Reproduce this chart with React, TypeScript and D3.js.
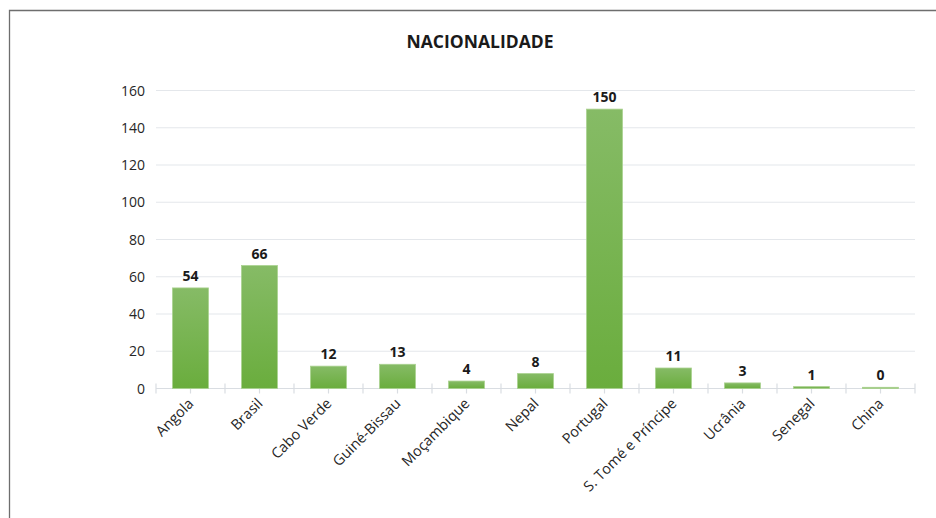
import React from 'react';
import * as d3 from 'd3';

const categories = ['Angola', 'Brasil', 'Cabo Verde', 'Guiné-Bissau', 'Moçambique', 'Nepal', 'Portugal', 'S. Tomé e Príncipe', 'Ucrânia', 'Senegal', 'China'];
const values = [54, 66, 12, 13, 4, 8, 150, 11, 3, 1, 0];
const yTicks = [0, 20, 40, 60, 80, 100, 120, 140, 160];

const W = 936;
const H = 518;
const left = 156;
const right = 915;
const top = 90.5;
const bottom = 388.5;
const font = '"Open Sans", "Liberation Sans", Arial, sans-serif';

const App = () => {
  const x = d3.scaleBand().domain(categories).range([left, right]).paddingInner(0.48).paddingOuter(0.24);
  const band = d3.scaleBand().domain(categories).range([left, right]);
  const y = d3.scaleLinear().domain([0, 160]).range([bottom, top]);

  return (
    <svg width={W} height={H} style={{ position: 'absolute', left: 0, top: 0, display: 'block' }}>
      <defs>
        <linearGradient id="barGrad" x1="0" y1="0" x2="0" y2="1">
          <stop offset="0%" stopColor="#86bb66" />
          <stop offset="100%" stopColor="#6aad3d" />
        </linearGradient>
      </defs>
      <rect x={0} y={0} width={W} height={H} fill="#ffffff" />
      {/* chart frame */}
      <path d={`M9.5,${H} V10.5 H${W}`} fill="none" stroke="#6e6e6e" strokeWidth={1.3} />

      <text x={480} y={48} textAnchor="middle" fontFamily={font} fontWeight="bold" fontSize={17.5} fill="#1a1a1a">
        NACIONALIDADE
      </text>

      {yTicks.map(t => (
        <g key={t}>
          {t > 0 && <line x1={left} x2={right} y1={y(t)} y2={y(t)} stroke="#e4e7eb" strokeWidth={1.2} />}
          <text x={145} y={y(t) + 5} textAnchor="end" fontFamily={font} fontSize={14} fill="#262626">{t}</text>
        </g>
      ))}

      {/* category axis */}
      <line x1={left} x2={right} y1={bottom} y2={bottom} stroke="#d9dde2" strokeWidth={1.2} />
      {categories.map(c => (
        <line key={'b' + c} x1={band(c)!} x2={band(c)!} y1={bottom - 5} y2={bottom + 5} stroke="#d9dde2" strokeWidth={1.2} />
      ))}
      <line x1={right} x2={right} y1={bottom - 5} y2={bottom + 5} stroke="#d9dde2" strokeWidth={1.2} />
      {categories.map(c => {
        const cx = band(c)! + band.bandwidth() / 2;
        return <line key={'m' + c} x1={cx} x2={cx} y1={bottom} y2={bottom + 5} stroke="#d9dde2" strokeWidth={1.2} />;
      })}

      {categories.map((c, i) => {
        const v = values[i];
        const h = Math.max(bottom - y(v), 1.2);
        const cx = x(c)! + x.bandwidth() / 2;
        return (
          <g key={c}>
            <rect x={x(c)!} y={bottom - h} width={x.bandwidth()} height={h} fill="url(#barGrad)" stroke="#a9d18e" strokeWidth={0.8} />
            <text x={cx} y={bottom - h - 7} textAnchor="middle" fontFamily={font} fontWeight="bold" fontSize={14} fill="#1a1a1a">{v}</text>
            <text transform={`translate(${cx + 4},${bottom + 16}) rotate(-45)`} textAnchor="end" fontFamily={font} fontSize={14.5} fill="#262626">{c}</text>
          </g>
        );
      })}
    </svg>
  );
};

export default App;
